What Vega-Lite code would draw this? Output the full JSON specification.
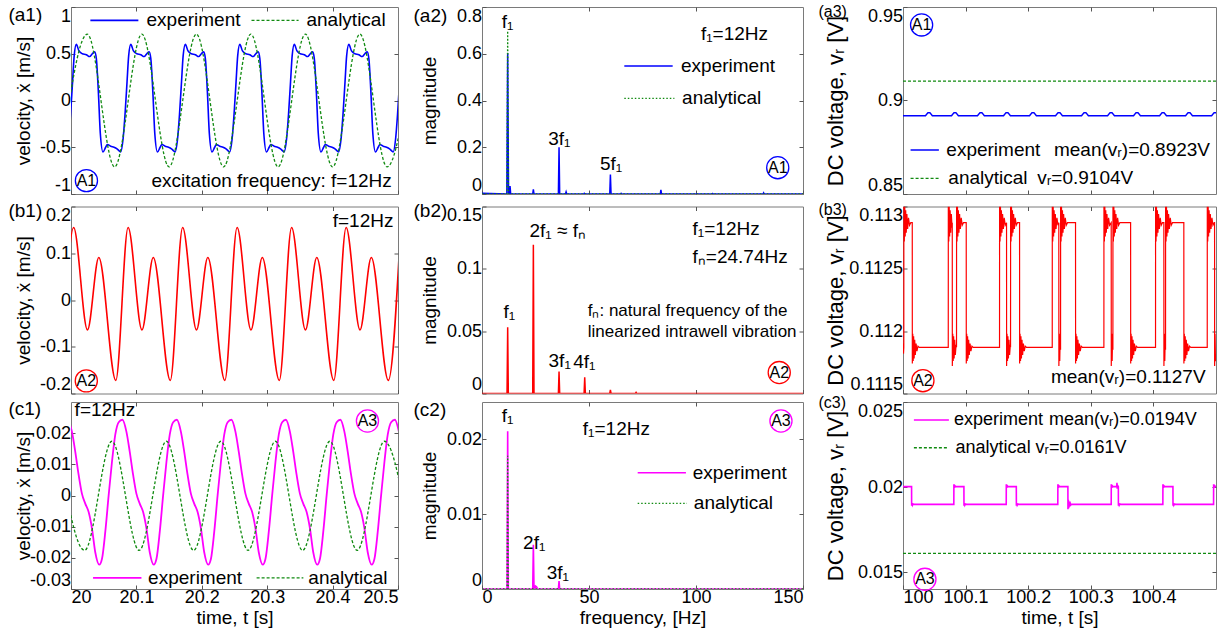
{
"$schema": "https://vega.github.io/schema/vega-lite/v6.json",
"padding": {"left": 7, "top": 3, "right": 0, "bottom": 0},
"config": {
  "font": "Liberation Sans",
  "view": {"stroke": "#7a7a7a", "strokeWidth": 1},
  "axis": {"domain": false, "grid": false, "tickSize": -4, "tickColor": "#555555", "tickWidth": 1, "labelFontSize": 18, "labelColor": "#000000", "labelPadding": 4.5, "labelFlush": true, "titleFontSize": 19, "titleFontWeight": "normal", "titleColor": "#000000"},
  "text": {"fontSize": 19, "color": "#000000"}
},
"datasets": {
"a1e": [{"x":19.9962,"y":-0.42},{"x":19.9993,"y":-0.15},{"x":20.0024,"y":0.2},{"x":20.0049,"y":0.48},
{"x":20.0081,"y":0.6},{"x":20.0122,"y":0.53},{"x":20.0173,"y":0.5},{"x":20.0234,"y":0.49},{"x":20.0285,"y":0.47},{"x":20.0326,"y":0.5},{"x":20.0362,"y":0.52},{"x":20.0387,"y":0.45},{"x":20.0418,"y":0.1},{"x":20.0448,"y":-0.35},{"x":20.0489,"y":-0.55},{"x":20.053,"y":-0.5},{"x":20.0556,"y":-0.47},{"x":20.0607,"y":-0.49},{"x":20.0658,"y":-0.5},{"x":20.0709,"y":-0.52},{"x":20.076,"y":-0.55},{"x":20.0795,"y":-0.42},{"x":20.0826,"y":-0.15},{"x":20.0857,"y":0.2},{"x":20.0882,"y":0.48},
{"x":20.0914,"y":0.6},{"x":20.0955,"y":0.53},{"x":20.1006,"y":0.5},{"x":20.1067,"y":0.49},{"x":20.1118,"y":0.47},{"x":20.1159,"y":0.5},{"x":20.1195,"y":0.52},{"x":20.122,"y":0.45},{"x":20.1251,"y":0.1},{"x":20.1281,"y":-0.35},{"x":20.1322,"y":-0.55},{"x":20.1363,"y":-0.5},{"x":20.1389,"y":-0.47},{"x":20.144,"y":-0.49},{"x":20.1491,"y":-0.5},{"x":20.1542,"y":-0.52},{"x":20.1593,"y":-0.55},{"x":20.1628,"y":-0.42},{"x":20.1659,"y":-0.15},{"x":20.169,"y":0.2},{"x":20.1715,"y":0.48},
{"x":20.1748,"y":0.6},{"x":20.1789,"y":0.53},{"x":20.184,"y":0.5},{"x":20.1901,"y":0.49},{"x":20.1952,"y":0.47},{"x":20.1993,"y":0.5},{"x":20.2029,"y":0.52},{"x":20.2054,"y":0.45},{"x":20.2085,"y":0.1},{"x":20.2115,"y":-0.35},{"x":20.2156,"y":-0.55},{"x":20.2197,"y":-0.5},{"x":20.2223,"y":-0.47},{"x":20.2274,"y":-0.49},{"x":20.2325,"y":-0.5},{"x":20.2376,"y":-0.52},{"x":20.2427,"y":-0.55},{"x":20.2462,"y":-0.42},{"x":20.2493,"y":-0.15},{"x":20.2524,"y":0.2},{"x":20.2549,"y":0.48},
{"x":20.2581,"y":0.6},{"x":20.2622,"y":0.53},{"x":20.2673,"y":0.5},{"x":20.2734,"y":0.49},{"x":20.2785,"y":0.47},{"x":20.2826,"y":0.5},{"x":20.2862,"y":0.52},{"x":20.2887,"y":0.45},{"x":20.2918,"y":0.1},{"x":20.2948,"y":-0.35},{"x":20.2989,"y":-0.55},{"x":20.303,"y":-0.5},{"x":20.3056,"y":-0.47},{"x":20.3107,"y":-0.49},{"x":20.3158,"y":-0.5},{"x":20.3209,"y":-0.52},{"x":20.326,"y":-0.55},{"x":20.3295,"y":-0.42},{"x":20.3326,"y":-0.15},{"x":20.3357,"y":0.2},{"x":20.3382,"y":0.48},
{"x":20.3414,"y":0.6},{"x":20.3455,"y":0.53},{"x":20.3506,"y":0.5},{"x":20.3567,"y":0.49},{"x":20.3618,"y":0.47},{"x":20.3659,"y":0.5},{"x":20.3695,"y":0.52},{"x":20.372,"y":0.45},{"x":20.3751,"y":0.1},{"x":20.3781,"y":-0.35},{"x":20.3822,"y":-0.55},{"x":20.3863,"y":-0.5},{"x":20.3889,"y":-0.47},{"x":20.394,"y":-0.49},{"x":20.3991,"y":-0.5},{"x":20.4042,"y":-0.52},{"x":20.4093,"y":-0.55},{"x":20.4128,"y":-0.42},{"x":20.4159,"y":-0.15},{"x":20.419,"y":0.2},{"x":20.4215,"y":0.48},
{"x":20.4248,"y":0.6},{"x":20.4289,"y":0.53},{"x":20.434,"y":0.5},{"x":20.4401,"y":0.49},{"x":20.4452,"y":0.47},{"x":20.4493,"y":0.5},{"x":20.4529,"y":0.52},{"x":20.4554,"y":0.45},{"x":20.4585,"y":0.1},{"x":20.4615,"y":-0.35},{"x":20.4656,"y":-0.55},{"x":20.4697,"y":-0.5},{"x":20.4723,"y":-0.47},{"x":20.4774,"y":-0.49},{"x":20.4825,"y":-0.5},{"x":20.4876,"y":-0.52},{"x":20.4927,"y":-0.55},{"x":20.4962,"y":-0.42},{"x":20.4993,"y":-0.15},{"x":20.5024,"y":0.2}],
"a1a": [{"x":19.9833,"y":-0.71},{"x":20.025,"y":0.71},{"x":20.0667,"y":-0.71},{"x":20.1083,"y":0.71},{"x":20.15,"y":-0.71},{"x":20.1917,"y":0.71},{"x":20.2333,"y":-0.71},{"x":20.275,"y":0.71},{"x":20.3167,"y":-0.71},{"x":20.3583,"y":0.71},{"x":20.4,"y":-0.71},{"x":20.4417,"y":0.71},{"x":20.4833,"y":-0.71},{"x":20.525,"y":0.71}],
"a2e": [{"x":0,"y":0.003},{"x":11.6,"y":0},{"x":12,"y":0.603},{"x":12.4,"y":0},{"x":12.8,"y":0},{"x":13.1,"y":0.034},{"x":13.4,"y":0},{"x":23.7,"y":0},{"x":24,"y":0.02},{"x":24.3,"y":0},{"x":35.7,"y":0},{"x":36,"y":0.2},{"x":36.3,"y":0},{"x":39,"y":0},{"x":39.3,"y":0.009},{"x":39.6,"y":0},{"x":47.5,"y":0},{"x":47.8,"y":0.003},{"x":48.1,"y":0},{"x":59.7,"y":0},{"x":60,"y":0.083},{"x":60.3,"y":0},{"x":64.7,"y":0},{"x":65,"y":0.003},{"x":65.3,"y":0},{"x":83.3,"y":0},{"x":83.6,"y":0.018},{"x":83.9,"y":0},{"x":107.5,"y":0},{"x":107.8,"y":0.002},{"x":108.1,"y":0},{"x":131.3,"y":0},{"x":131.6,"y":0.005},{"x":131.9,"y":0},{"x":150,"y":0}],
"a2a": [{"x":0,"y":0},{"x":11.6,"y":0},{"x":12,"y":0.697},{"x":12.4,"y":0},{"x":150,"y":0}],
"a3e": [{"x":100,"y":0.8918},
{"x":100.0359,"y":0.8918},{"x":100.0399,"y":0.8935},{"x":100.0429,"y":0.8935},{"x":100.0469,"y":0.8918},
{"x":100.0775,"y":0.8918},{"x":100.0815,"y":0.8935},{"x":100.0845,"y":0.8935},{"x":100.0885,"y":0.8918},
{"x":100.119,"y":0.8918},{"x":100.123,"y":0.8935},{"x":100.126,"y":0.8935},{"x":100.13,"y":0.8918},
{"x":100.1606,"y":0.8918},{"x":100.1646,"y":0.8935},{"x":100.1676,"y":0.8935},{"x":100.1716,"y":0.8918},
{"x":100.2021,"y":0.8918},{"x":100.2061,"y":0.8935},{"x":100.2091,"y":0.8935},{"x":100.2131,"y":0.8918},
{"x":100.2437,"y":0.8918},{"x":100.2477,"y":0.8935},{"x":100.2507,"y":0.8935},{"x":100.2547,"y":0.8918},
{"x":100.2852,"y":0.8918},{"x":100.2892,"y":0.8935},{"x":100.2922,"y":0.8935},{"x":100.2962,"y":0.8918},
{"x":100.3268,"y":0.8918},{"x":100.3308,"y":0.8935},{"x":100.3338,"y":0.8935},{"x":100.3378,"y":0.8918},
{"x":100.3683,"y":0.8918},{"x":100.3723,"y":0.8935},{"x":100.3753,"y":0.8935},{"x":100.3793,"y":0.8918},
{"x":100.4099,"y":0.8918},{"x":100.4139,"y":0.8935},{"x":100.4169,"y":0.8935},{"x":100.4209,"y":0.8918},
{"x":100.4514,"y":0.8918},{"x":100.4554,"y":0.8935},{"x":100.4584,"y":0.8935},{"x":100.4624,"y":0.8918},
{"x":100.493,"y":0.8918},{"x":100.497,"y":0.8935},{"x":100.5,"y":0.8935}],
"a3a": [{"x":100,"y":0.9104},{"x":100.5,"y":0.9104}],
"b1r": [{"x":19.9852,"y":-0.172},{"x":20.004,"y":0.155},{"x":20.0252,"y":-0.064},{"x":20.0425,"y":0.091},{"x":20.0685,"y":-0.172},{"x":20.0873,"y":0.155},{"x":20.1085,"y":-0.064},{"x":20.1258,"y":0.091},{"x":20.1518,"y":-0.172},{"x":20.1707,"y":0.155},{"x":20.1919,"y":-0.064},{"x":20.2092,"y":0.091},{"x":20.2352,"y":-0.172},{"x":20.254,"y":0.155},{"x":20.2752,"y":-0.064},{"x":20.2925,"y":0.091},{"x":20.3185,"y":-0.172},{"x":20.3373,"y":0.155},{"x":20.3585,"y":-0.064},{"x":20.3758,"y":0.091},{"x":20.4018,"y":-0.172},{"x":20.4207,"y":0.155},{"x":20.4419,"y":-0.064},{"x":20.4592,"y":0.091},{"x":20.4852,"y":-0.172},{"x":20.504,"y":0.155}],
"b2r": [{"x":0,"y":0},{"x":11.7,"y":0},{"x":12,"y":0.0532},{"x":12.3,"y":0},{"x":23.7,"y":0},{"x":24,"y":0.1193},{"x":24.3,"y":0},{"x":35.7,"y":0},{"x":36,"y":0.0177},{"x":36.3,"y":0},{"x":47.7,"y":0},{"x":48,"y":0.0131},{"x":48.3,"y":0},{"x":59.7,"y":0},{"x":60,"y":0.003},{"x":60.3,"y":0},{"x":71.7,"y":0},{"x":72,"y":0.0008},{"x":72.3,"y":0},{"x":150,"y":0}],
"b3r": [{"x":100,"y":0.11184},{"x":100.0004,"y":0.1119},{"x":100.0008,"y":0.11182},{"x":100.0013,"y":0.11187},
{"x":100.0014,"y":0.113},{"x":100.0021,"y":0.11272},{"x":100.0028,"y":0.113},{"x":100.0035,"y":0.11276},{"x":100.0043,"y":0.11297},{"x":100.0052,"y":0.11279},{"x":100.0062,"y":0.11294},{"x":100.0074,"y":0.11282},{"x":100.0088,"y":0.11291},{"x":100.0104,"y":0.11285},{"x":100.0124,"y":0.11287},{"x":100.0148,"y":0.11287},
{"x":100.0149,"y":0.11174},{"x":100.0156,"y":0.11198},{"x":100.0163,"y":0.11176},{"x":100.017,"y":0.11196},{"x":100.0178,"y":0.11178},{"x":100.0187,"y":0.11193},{"x":100.0197,"y":0.11181},{"x":100.0209,"y":0.1119},{"x":100.0223,"y":0.11184},{"x":100.0239,"y":0.11188},{"x":100.0259,"y":0.11187},
{"x":100.0723,"y":0.11187},{"x":100.0724,"y":0.113},{"x":100.0731,"y":0.11272},{"x":100.0738,"y":0.113},{"x":100.0745,"y":0.11276},{"x":100.0753,"y":0.11297},{"x":100.0762,"y":0.11279},{"x":100.0772,"y":0.11294},{"x":100.0784,"y":0.11283},{"x":100.0787,"y":0.11287},
{"x":100.0788,"y":0.11172},{"x":100.0795,"y":0.11198},{"x":100.0802,"y":0.11176},{"x":100.0809,"y":0.11196},{"x":100.0817,"y":0.11178},{"x":100.0826,"y":0.11193},{"x":100.0836,"y":0.11181},{"x":100.0848,"y":0.11189},{"x":100.0855,"y":0.11187},
{"x":100.0856,"y":0.113},{"x":100.0863,"y":0.11272},{"x":100.087,"y":0.113},{"x":100.0877,"y":0.11276},{"x":100.0885,"y":0.11297},{"x":100.0894,"y":0.11279},{"x":100.0904,"y":0.11294},{"x":100.0916,"y":0.11282},{"x":100.093,"y":0.11291},{"x":100.0946,"y":0.11285},{"x":100.0966,"y":0.11287},{"x":100.101,"y":0.11287},
{"x":100.1011,"y":0.11174},{"x":100.1018,"y":0.11198},{"x":100.1025,"y":0.11176},{"x":100.1032,"y":0.11196},{"x":100.104,"y":0.11178},{"x":100.1049,"y":0.11193},{"x":100.1059,"y":0.11181},{"x":100.1071,"y":0.1119},{"x":100.1085,"y":0.11184},{"x":100.1101,"y":0.11188},{"x":100.1121,"y":0.11187},
{"x":100.1542,"y":0.11187},{"x":100.1543,"y":0.113},{"x":100.155,"y":0.11272},{"x":100.1557,"y":0.113},{"x":100.1564,"y":0.11276},{"x":100.1572,"y":0.11297},{"x":100.1581,"y":0.11279},{"x":100.1591,"y":0.11294},{"x":100.1603,"y":0.11282},{"x":100.1617,"y":0.11291},{"x":100.1633,"y":0.11285},{"x":100.1654,"y":0.11287},
{"x":100.1655,"y":0.11172},{"x":100.1662,"y":0.11198},{"x":100.1669,"y":0.11176},{"x":100.1676,"y":0.11196},{"x":100.1684,"y":0.11178},{"x":100.1693,"y":0.11193},{"x":100.1703,"y":0.11181},{"x":100.1715,"y":0.11189},{"x":100.1718,"y":0.11187},
{"x":100.1719,"y":0.113},{"x":100.1726,"y":0.11272},{"x":100.1733,"y":0.113},{"x":100.174,"y":0.11276},{"x":100.1748,"y":0.11297},{"x":100.1757,"y":0.11279},{"x":100.1767,"y":0.11294},{"x":100.1779,"y":0.11282},{"x":100.1793,"y":0.11291},{"x":100.1809,"y":0.11285},{"x":100.1829,"y":0.11287},{"x":100.1862,"y":0.11287},
{"x":100.1863,"y":0.11174},{"x":100.187,"y":0.11198},{"x":100.1877,"y":0.11176},{"x":100.1884,"y":0.11196},{"x":100.1892,"y":0.11178},{"x":100.1901,"y":0.11193},{"x":100.1911,"y":0.11181},{"x":100.1923,"y":0.1119},{"x":100.1937,"y":0.11184},{"x":100.1953,"y":0.11188},{"x":100.1973,"y":0.11187},
{"x":100.2384,"y":0.11187},{"x":100.2385,"y":0.113},{"x":100.2392,"y":0.11272},{"x":100.2399,"y":0.113},{"x":100.2406,"y":0.11276},{"x":100.2414,"y":0.11297},{"x":100.2423,"y":0.11279},{"x":100.2433,"y":0.11294},{"x":100.2445,"y":0.11282},{"x":100.2459,"y":0.11291},{"x":100.2475,"y":0.11285},{"x":100.2489,"y":0.11287},
{"x":100.249,"y":0.11172},{"x":100.2497,"y":0.11198},{"x":100.2504,"y":0.11176},{"x":100.2511,"y":0.11195},{"x":100.2517,"y":0.11185},
{"x":100.2518,"y":0.113},{"x":100.2525,"y":0.11272},{"x":100.2532,"y":0.113},{"x":100.2539,"y":0.11276},{"x":100.2547,"y":0.11297},{"x":100.2556,"y":0.11279},{"x":100.2566,"y":0.11294},{"x":100.2578,"y":0.11282},{"x":100.2592,"y":0.11291},{"x":100.2608,"y":0.11285},{"x":100.2628,"y":0.11287},{"x":100.2756,"y":0.11287},
{"x":100.2757,"y":0.11174},{"x":100.2764,"y":0.11198},{"x":100.2771,"y":0.11176},{"x":100.2778,"y":0.11196},{"x":100.2786,"y":0.11178},{"x":100.2795,"y":0.11193},{"x":100.2805,"y":0.11181},{"x":100.2817,"y":0.1119},{"x":100.2831,"y":0.11184},{"x":100.2847,"y":0.11188},{"x":100.2867,"y":0.11187},
{"x":100.3209,"y":0.11187},{"x":100.321,"y":0.113},{"x":100.3217,"y":0.11272},{"x":100.3224,"y":0.113},{"x":100.3231,"y":0.11276},{"x":100.3239,"y":0.11297},{"x":100.3248,"y":0.11279},{"x":100.3258,"y":0.11294},{"x":100.327,"y":0.11282},{"x":100.3284,"y":0.11291},{"x":100.33,"y":0.11285},{"x":100.3326,"y":0.11287},
{"x":100.3327,"y":0.11172},{"x":100.3334,"y":0.11198},{"x":100.3341,"y":0.11176},{"x":100.3348,"y":0.11195},{"x":100.3353,"y":0.11185},
{"x":100.3354,"y":0.113},{"x":100.3361,"y":0.11272},{"x":100.3368,"y":0.113},{"x":100.3375,"y":0.11276},{"x":100.3383,"y":0.11297},{"x":100.3392,"y":0.11279},{"x":100.3402,"y":0.11294},{"x":100.3414,"y":0.11282},{"x":100.3428,"y":0.11291},{"x":100.3444,"y":0.11285},{"x":100.3464,"y":0.11287},{"x":100.3636,"y":0.11287},
{"x":100.3637,"y":0.11174},{"x":100.3644,"y":0.11198},{"x":100.3651,"y":0.11176},{"x":100.3658,"y":0.11196},{"x":100.3666,"y":0.11178},{"x":100.3675,"y":0.11193},{"x":100.3685,"y":0.11181},{"x":100.3697,"y":0.1119},{"x":100.3711,"y":0.11184},{"x":100.3727,"y":0.11188},{"x":100.3747,"y":0.11187},
{"x":100.4034,"y":0.11187},{"x":100.4035,"y":0.113},{"x":100.4042,"y":0.11272},{"x":100.4049,"y":0.113},{"x":100.4056,"y":0.11276},{"x":100.4064,"y":0.11297},{"x":100.4073,"y":0.11279},{"x":100.4083,"y":0.11294},{"x":100.4095,"y":0.11282},{"x":100.4109,"y":0.11291},{"x":100.4125,"y":0.11285},{"x":100.4145,"y":0.11287},{"x":100.4167,"y":0.11287},
{"x":100.4168,"y":0.11172},{"x":100.4175,"y":0.11198},{"x":100.4182,"y":0.11176},{"x":100.4189,"y":0.11195},{"x":100.4194,"y":0.11185},
{"x":100.4195,"y":0.113},{"x":100.4202,"y":0.11272},{"x":100.4209,"y":0.113},{"x":100.4216,"y":0.11276},{"x":100.4224,"y":0.11297},{"x":100.4233,"y":0.11279},{"x":100.4243,"y":0.11294},{"x":100.4255,"y":0.11282},{"x":100.4269,"y":0.11291},{"x":100.4285,"y":0.11285},{"x":100.4305,"y":0.11287},{"x":100.4486,"y":0.11287},
{"x":100.4487,"y":0.11174},{"x":100.4494,"y":0.11198},{"x":100.4501,"y":0.11176},{"x":100.4508,"y":0.11196},{"x":100.4516,"y":0.11178},{"x":100.4525,"y":0.11193},{"x":100.4535,"y":0.11181},{"x":100.4547,"y":0.1119},{"x":100.4561,"y":0.11184},{"x":100.4577,"y":0.11188},{"x":100.4597,"y":0.11187},
{"x":100.486,"y":0.11187},{"x":100.4861,"y":0.113},{"x":100.4868,"y":0.11272},{"x":100.4875,"y":0.113},{"x":100.4882,"y":0.11276},{"x":100.489,"y":0.11297},{"x":100.4899,"y":0.11279},{"x":100.4909,"y":0.11294},{"x":100.4921,"y":0.11282},{"x":100.4935,"y":0.11291},{"x":100.4951,"y":0.11285},{"x":100.4971,"y":0.11287},{"x":100.4977,"y":0.11287},
{"x":100.4978,"y":0.11172},{"x":100.4985,"y":0.11198},{"x":100.4992,"y":0.11176},{"x":100.5,"y":0.1118}],
"c1e": [{"x":19.9953,"y":0.0243},{"x":20.0014,"y":0.0205},{"x":20.0065,"y":0.0141},{"x":20.0117,"y":0.0066},{"x":20.0167,"y":0.0006},{"x":20.0218,"y":-0.0026},{"x":20.027,"y":-0.0053},{"x":20.0321,"y":-0.0106},{"x":20.0371,"y":-0.0182},{"x":20.0432,"y":-0.0222},{"x":20.0474,"y":-0.0203},{"x":20.0524,"y":-0.0117},{"x":20.0576,"y":0.0001},{"x":20.0627,"y":0.0109},{"x":20.0677,"y":0.0195},{"x":20.0729,"y":0.0235},
{"x":20.0786,"y":0.0243},{"x":20.0847,"y":0.0205},{"x":20.0898,"y":0.0141},{"x":20.095,"y":0.0066},{"x":20.1,"y":0.0006},{"x":20.1051,"y":-0.0026},{"x":20.1103,"y":-0.0053},{"x":20.1154,"y":-0.0106},{"x":20.1204,"y":-0.0182},{"x":20.1265,"y":-0.0222},{"x":20.1307,"y":-0.0203},{"x":20.1357,"y":-0.0117},{"x":20.1409,"y":0.0001},{"x":20.146,"y":0.0109},{"x":20.151,"y":0.0195},{"x":20.1562,"y":0.0235},
{"x":20.1619,"y":0.0243},{"x":20.168,"y":0.0205},{"x":20.1731,"y":0.0141},{"x":20.1783,"y":0.0066},{"x":20.1833,"y":0.0006},{"x":20.1884,"y":-0.0026},{"x":20.1936,"y":-0.0053},{"x":20.1987,"y":-0.0106},{"x":20.2037,"y":-0.0182},{"x":20.2098,"y":-0.0222},{"x":20.214,"y":-0.0203},{"x":20.219,"y":-0.0117},{"x":20.2242,"y":0.0001},{"x":20.2293,"y":0.0109},{"x":20.2343,"y":0.0195},{"x":20.2395,"y":0.0235},
{"x":20.2453,"y":0.0243},{"x":20.2514,"y":0.0205},{"x":20.2565,"y":0.0141},{"x":20.2617,"y":0.0066},{"x":20.2667,"y":0.0006},{"x":20.2718,"y":-0.0026},{"x":20.277,"y":-0.0053},{"x":20.2821,"y":-0.0106},{"x":20.2871,"y":-0.0182},{"x":20.2932,"y":-0.0222},{"x":20.2974,"y":-0.0203},{"x":20.3024,"y":-0.0117},{"x":20.3076,"y":0.0001},{"x":20.3127,"y":0.0109},{"x":20.3177,"y":0.0195},{"x":20.3229,"y":0.0235},
{"x":20.3286,"y":0.0243},{"x":20.3347,"y":0.0205},{"x":20.3398,"y":0.0141},{"x":20.345,"y":0.0066},{"x":20.35,"y":0.0006},{"x":20.3551,"y":-0.0026},{"x":20.3603,"y":-0.0053},{"x":20.3654,"y":-0.0106},{"x":20.3704,"y":-0.0182},{"x":20.3765,"y":-0.0222},{"x":20.3807,"y":-0.0203},{"x":20.3857,"y":-0.0117},{"x":20.3909,"y":0.0001},{"x":20.396,"y":0.0109},{"x":20.401,"y":0.0195},{"x":20.4062,"y":0.0235},
{"x":20.4119,"y":0.0243},{"x":20.418,"y":0.0205},{"x":20.4231,"y":0.0141},{"x":20.4283,"y":0.0066},{"x":20.4333,"y":0.0006},{"x":20.4384,"y":-0.0026},{"x":20.4436,"y":-0.0053},{"x":20.4487,"y":-0.0106},{"x":20.4537,"y":-0.0182},{"x":20.4598,"y":-0.0222},{"x":20.464,"y":-0.0203},{"x":20.469,"y":-0.0117},{"x":20.4742,"y":0.0001},{"x":20.4793,"y":0.0109},{"x":20.4843,"y":0.0195},{"x":20.4895,"y":0.0235},
{"x":20.4953,"y":0.0243},{"x":20.5014,"y":0.0205}],
"c1a": [{"x":19.9792,"y":0.0174},{"x":20.0208,"y":-0.0176},{"x":20.0625,"y":0.0174},{"x":20.1042,"y":-0.0176},{"x":20.1458,"y":0.0174},{"x":20.1875,"y":-0.0176},{"x":20.2292,"y":0.0174},{"x":20.2708,"y":-0.0176},{"x":20.3125,"y":0.0174},{"x":20.3542,"y":-0.0176},{"x":20.3958,"y":0.0174},{"x":20.4375,"y":-0.0176},{"x":20.4792,"y":0.0174},{"x":20.5208,"y":-0.0176}],
"c2e": [{"x":0,"y":0},{"x":11.7,"y":0},{"x":12,"y":0.0211},{"x":12.3,"y":0},{"x":23.7,"y":0},{"x":24,"y":0.0059},{"x":24.3,"y":0},{"x":24.7,"y":0},{"x":25,"y":0.0004},{"x":25.5,"y":0.0003},{"x":26,"y":0},{"x":35.7,"y":0},{"x":36,"y":0.00107},{"x":36.3,"y":0},{"x":150,"y":0}],
"c2a": [{"x":0,"y":0},{"x":11.7,"y":0},{"x":12,"y":0.0178},{"x":12.3,"y":0},{"x":150,"y":0}],
"c3e": [{"x":100,"y":0.02002},{"x":100.0137,"y":0.02002},{"x":100.0138,"y":0.0189},{"x":100.0145,"y":0.01905},{"x":100.0152,"y":0.01893},{"x":100.0162,"y":0.019},{"x":100.0177,"y":0.01898},
{"x":100.0812,"y":0.01898},{"x":100.0813,"y":0.02016},{"x":100.0821,"y":0.01995},{"x":100.0829,"y":0.02008},{"x":100.0843,"y":0.02002},{"x":100.0973,"y":0.02002},{"x":100.0974,"y":0.0189},{"x":100.0981,"y":0.01905},{"x":100.0988,"y":0.01893},{"x":100.0998,"y":0.019},{"x":100.1013,"y":0.01898},
{"x":100.1649,"y":0.01898},{"x":100.165,"y":0.02016},{"x":100.1658,"y":0.01995},{"x":100.1666,"y":0.02008},{"x":100.168,"y":0.02002},{"x":100.181,"y":0.02002},{"x":100.1811,"y":0.0189},{"x":100.1818,"y":0.01905},{"x":100.1825,"y":0.01893},{"x":100.1835,"y":0.019},{"x":100.185,"y":0.01898},
{"x":100.2473,"y":0.01898},{"x":100.2474,"y":0.02016},{"x":100.2482,"y":0.01995},{"x":100.249,"y":0.02008},{"x":100.2504,"y":0.02002},{"x":100.2634,"y":0.02002},{"x":100.2635,"y":0.01869},{"x":100.2641,"y":0.01925},{"x":100.2647,"y":0.01875},{"x":100.2654,"y":0.01915},{"x":100.2662,"y":0.01885},{"x":100.2672,"y":0.01905},{"x":100.2684,"y":0.01895},{"x":100.2699,"y":0.01898},
{"x":100.3326,"y":0.01898},{"x":100.3327,"y":0.02016},{"x":100.3335,"y":0.01995},{"x":100.3343,"y":0.02008},{"x":100.3357,"y":0.02002},{"x":100.3414,"y":0.02002},{"x":100.3418,"y":0.02025},{"x":100.3422,"y":0.0199},{"x":100.3427,"y":0.0201},{"x":100.344,"y":0.02002},{"x":100.3441,"y":0.0189},{"x":100.3448,"y":0.01905},{"x":100.3455,"y":0.01893},{"x":100.3465,"y":0.019},{"x":100.348,"y":0.01898},
{"x":100.4151,"y":0.01898},{"x":100.4152,"y":0.02016},{"x":100.416,"y":0.01995},{"x":100.4168,"y":0.02008},{"x":100.4182,"y":0.02002},{"x":100.4312,"y":0.02002},{"x":100.4313,"y":0.0189},{"x":100.432,"y":0.01905},{"x":100.4327,"y":0.01893},{"x":100.4337,"y":0.019},{"x":100.4352,"y":0.01898},
{"x":100.4961,"y":0.01898},{"x":100.4962,"y":0.02016},{"x":100.497,"y":0.01995},{"x":100.4978,"y":0.02008},{"x":100.4992,"y":0.02002},{"x":100.5,"y":0.02002}],
"c3a": [{"x":100,"y":0.0161},{"x":100.5,"y":0.0161}]
},
"spacing": 6.5,
"resolve": {"scale": {"x": "independent", "y": "independent"}},
"vconcat": [
{"hconcat": [
 {"width": 327, "height": 187, "resolve": {"axis": {"x": "independent", "y": "independent"}},
  "layer": [
  {"encoding": {
   "x": {"field": "x", "type": "quantitative", "scale": {"domain": [20, 20.5], "nice": false, "zero": false}, "axis": {"values": [20, 20.1, 20.2, 20.3, 20.4, 20.5], "labels": false, "title": null}},
   "y": {"field": "y", "type": "quantitative", "scale": {"domain": [-1, 1], "nice": false, "zero": false}, "axis": {"values": [-1, -0.5, 0, 0.5, 1], "labelExpr": "'' + datum.value", "title": "velocity, ẋ [m/s]", "titleX": -38}}
  },
  "layer": [
   {"data": {"name": "a1e"}, "mark": {"type": "line", "color": "#0000ff", "strokeWidth": 1.6, "interpolate": "monotone", "clip": true}},
   {"data": {"name": "a1a"}, "mark": {"type": "line", "color": "#108a10", "strokeWidth": 1.3, "strokeDash": [3, 2], "interpolate": "monotone", "clip": true}},
   {"data": {"values": [{"x": 20.0296, "x2": 20.103, "y": 0.857}]}, "mark": {"type": "rule", "color": "#0000ff", "strokeWidth": 1.6}, "encoding": {"x2": {"field": "x2"}}},
   {"data": {"values": [{"x": 20.276, "x2": 20.348, "y": 0.857}]}, "mark": {"type": "rule", "color": "#108a10", "strokeWidth": 1.3, "strokeDash": [3, 2]}, "encoding": {"x2": {"field": "x2"}}},
   {"data": {"values": [{"x": 20.1155, "y": 0.857, "l": "experiment"}, {"x": 20.36, "y": 0.857, "l": "analytical"}, {"x": 19.9044, "y": 0.91, "l": "(a1)"}]}, "mark": {"type": "text", "align": "left", "baseline": "middle", "fontSize": 19}, "encoding": {"text": {"field": "l", "type": "nominal"}}},
   {"data": {"values": [{"x": 20.4905, "y": -0.857, "l": "excitation frequency: f=12Hz"}]}, "mark": {"type": "text", "align": "right", "baseline": "middle", "fontSize": 19}, "encoding": {"text": {"field": "l", "type": "nominal"}}},
   {"data": {"values": [{"x": 20.0236, "y": -0.857}]}, "mark": {"type": "point", "shape": "circle", "size": 490, "filled": false, "color": "#0000ff", "strokeWidth": 1.3, "opacity": 1}},
   {"data": {"values": [{"x": 20.0236, "y": -0.857, "l": "A1"}]}, "mark": {"type": "text", "align": "center", "baseline": "middle", "fontSize": 16}, "encoding": {"text": {"field": "l", "type": "nominal"}}}
  ]},
  {"data": {"values": [{"x": 20.2, "y": 0}]}, "mark": {"type": "point", "opacity": 0},
   "encoding": {
    "x": {"field": "x", "type": "quantitative", "scale": {"domain": [20, 20.5], "nice": false, "zero": false}, "axis": {"orient": "top", "values": [20.1, 20.2, 20.3, 20.4], "labels": false, "title": null, "minExtent": 0}},
    "y": {"field": "y", "type": "quantitative", "scale": {"domain": [-1, 1], "nice": false, "zero": false}, "axis": {"orient": "right", "values": [-0.5, 0, 0.5], "labels": false, "title": null, "minExtent": 0}}
   }}
  ]},
 {"hconcat": [
 {"width": 321, "height": 187, "resolve": {"axis": {"x": "independent", "y": "independent"}},
  "layer": [
  {"encoding": {
   "x": {"field": "x", "type": "quantitative", "scale": {"domain": [0, 150], "nice": false, "zero": false}, "axis": {"values": [0, 50, 100, 150], "labels": false, "title": null}},
   "y": {"field": "y", "type": "quantitative", "scale": {"domain": [0, 0.8], "nice": false}, "axis": {"values": [0, 0.2, 0.4, 0.6, 0.8], "labelExpr": "'' + datum.value", "title": "magnitude", "titleX": -43}}
  },
  "layer": [
   {"data": {"name": "a2e"}, "mark": {"type": "line", "color": "#0000ff", "strokeWidth": 1.5, "clip": true}},
   {"data": {"name": "a2a"}, "mark": {"type": "line", "color": "#108a10", "strokeWidth": 1.3, "strokeDash": [1.5, 2], "clip": true}},
   {"data": {"values": [{"x": 66.5, "x2": 89.1, "y": 0.5476}]}, "mark": {"type": "rule", "color": "#0000ff", "strokeWidth": 1.5}, "encoding": {"x2": {"field": "x2"}}},
   {"data": {"values": [{"x": 66.5, "x2": 89.9, "y": 0.4094}]}, "mark": {"type": "rule", "color": "#108a10", "strokeWidth": 1.3, "strokeDash": [1.5, 2]}, "encoding": {"x2": {"field": "x2"}}},
   {"data": {"values": [{"x": 93.0, "y": 0.5476, "l": "experiment"}, {"x": 93.5, "y": 0.4094, "l": "analytical"}, {"x": 102.3, "y": 0.683, "l": "f₁=12Hz"}, {"x": -32.0, "y": 0.7615, "l": "(a2)"}]}, "mark": {"type": "text", "align": "left", "baseline": "middle", "fontSize": 19}, "encoding": {"text": {"field": "l", "type": "nominal"}}},
   {"data": {"values": [{"x": 12, "y": 0.737, "l": "f₁"}, {"x": 36.1, "y": 0.234, "l": "3f₁"}, {"x": 60.3, "y": 0.127, "l": "5f₁"}]}, "mark": {"type": "text", "align": "center", "baseline": "middle", "fontSize": 19}, "encoding": {"text": {"field": "l", "type": "nominal"}}},
   {"data": {"values": [{"x": 138.2, "y": 0.1125}]}, "mark": {"type": "point", "shape": "circle", "size": 490, "filled": false, "color": "#0000ff", "strokeWidth": 1.3, "opacity": 1}},
   {"data": {"values": [{"x": 138.2, "y": 0.1125, "l": "A1"}]}, "mark": {"type": "text", "align": "center", "baseline": "middle", "fontSize": 16}, "encoding": {"text": {"field": "l", "type": "nominal"}}}
  ]},
  {"data": {"values": [{"x": 50, "y": 0.4}]}, "mark": {"type": "point", "opacity": 0},
   "encoding": {
    "x": {"field": "x", "type": "quantitative", "scale": {"domain": [0, 150], "nice": false, "zero": false}, "axis": {"orient": "top", "values": [50, 100], "labels": false, "title": null, "minExtent": 0}},
    "y": {"field": "y", "type": "quantitative", "scale": {"domain": [0, 0.8], "nice": false}, "axis": {"orient": "right", "values": [0.2, 0.4, 0.6], "labels": false, "title": null, "minExtent": 0}}
   }}
  ]},
 {"width": 313, "height": 187, "resolve": {"axis": {"x": "independent", "y": "independent"}},
  "layer": [
  {"encoding": {
   "x": {"field": "x", "type": "quantitative", "scale": {"domain": [100, 100.5], "nice": false, "zero": false}, "axis": {"values": [100, 100.1, 100.2, 100.3, 100.4], "labels": false, "title": null}},
   "y": {"field": "y", "type": "quantitative", "scale": {"domain": [0.85, 0.95], "nice": false, "zero": false}, "axis": {"values": [0.85, 0.9, 0.95], "labelExpr": "'' + datum.value", "title": "DC voltage, vᵣ  [V]", "titleFontSize": 22, "titleX": -56}}
  },
  "layer": [
   {"data": {"name": "a3e"}, "mark": {"type": "line", "color": "#0000ff", "strokeWidth": 1.5, "clip": true}},
   {"data": {"name": "a3a"}, "mark": {"type": "line", "color": "#108a10", "strokeWidth": 1.3, "strokeDash": [3, 2], "clip": true}},
   {"data": {"values": [{"x": 100.0121, "x2": 100.0573, "y": 0.87353}]}, "mark": {"type": "rule", "color": "#0000ff", "strokeWidth": 1.5}, "encoding": {"x2": {"field": "x2"}}},
   {"data": {"values": [{"x": 100.0121, "x2": 100.0573, "y": 0.8584}]}, "mark": {"type": "rule", "color": "#108a10", "strokeWidth": 1.3, "strokeDash": [3, 2]}, "encoding": {"x2": {"field": "x2"}}},
   {"data": {"values": [{"x": 100.0692, "y": 0.87353, "l": "experiment"}, {"x": 100.2411, "y": 0.87353, "l": "mean(vᵣ)=0.8923V"}, {"x": 100.0724, "y": 0.8584, "l": "analytical"}, {"x": 100.2145, "y": 0.8584, "l": "vᵣ=0.9104V"}]}, "mark": {"type": "text", "align": "left", "baseline": "middle", "fontSize": 19}, "encoding": {"text": {"field": "l", "type": "nominal"}}},
   {"data": {"values": [{"x": 99.865, "y": 0.9473, "l": "(a3)"}]}, "mark": {"type": "text", "align": "left", "baseline": "middle", "fontSize": 16}, "encoding": {"text": {"field": "l", "type": "nominal"}}},
   {"data": {"values": [{"x": 100.0297, "y": 0.9404}]}, "mark": {"type": "point", "shape": "circle", "size": 490, "filled": false, "color": "#0000ff", "strokeWidth": 1.3, "opacity": 1}},
   {"data": {"values": [{"x": 100.0297, "y": 0.9404, "l": "A1"}]}, "mark": {"type": "text", "align": "center", "baseline": "middle", "fontSize": 16}, "encoding": {"text": {"field": "l", "type": "nominal"}}}
  ]},
  {"data": {"values": [{"x": 100.2, "y": 0.9}]}, "mark": {"type": "point", "opacity": 0},
   "encoding": {
    "x": {"field": "x", "type": "quantitative", "scale": {"domain": [100, 100.5], "nice": false, "zero": false}, "axis": {"orient": "top", "values": [100.1, 100.2, 100.3, 100.4], "labels": false, "title": null, "minExtent": 0}},
    "y": {"field": "y", "type": "quantitative", "scale": {"domain": [0.85, 0.95], "nice": false, "zero": false}, "axis": {"orient": "right", "values": [0.9], "labels": false, "title": null, "minExtent": 0}}
   }}
  ]}
 ], "spacing": 100, "bounds": "flush", "resolve": {"scale": {"x": "independent", "y": "independent"}}}
], "spacing": 84, "bounds": "flush", "resolve": {"scale": {"x": "independent", "y": "independent"}}},
{"vconcat": [
{"hconcat": [
 {"width": 327, "height": 187, "resolve": {"axis": {"x": "independent", "y": "independent"}},
  "layer": [
  {"encoding": {
   "x": {"field": "x", "type": "quantitative", "scale": {"domain": [20, 20.5], "nice": false, "zero": false}, "axis": {"values": [20, 20.1, 20.2, 20.3, 20.4, 20.5], "labels": false, "title": null}},
   "y": {"field": "y", "type": "quantitative", "scale": {"domain": [-0.2, 0.2], "nice": false, "zero": false}, "axis": {"values": [-0.2, -0.1, 0, 0.1, 0.2], "labelExpr": "'' + datum.value", "title": "velocity, ẋ [m/s]", "titleX": -38}}
  },
  "layer": [
   {"data": {"name": "b1r"}, "mark": {"type": "line", "color": "#ff0000", "strokeWidth": 1.6, "interpolate": "monotone", "clip": true}},
   {"data": {"values": [{"x": 20.493, "y": 0.1696, "l": "f=12Hz"}]}, "mark": {"type": "text", "align": "right", "baseline": "middle", "fontSize": 19}, "encoding": {"text": {"field": "l", "type": "nominal"}}},
   {"data": {"values": [{"x": 19.9044, "y": 0.1895, "l": "(b1)"}]}, "mark": {"type": "text", "align": "left", "baseline": "middle", "fontSize": 19}, "encoding": {"text": {"field": "l", "type": "nominal"}}},
   {"data": {"values": [{"x": 20.0234, "y": -0.173}]}, "mark": {"type": "point", "shape": "circle", "size": 490, "filled": false, "color": "#ff0000", "strokeWidth": 1.3, "opacity": 1}},
   {"data": {"values": [{"x": 20.0234, "y": -0.173, "l": "A2"}]}, "mark": {"type": "text", "align": "center", "baseline": "middle", "fontSize": 16}, "encoding": {"text": {"field": "l", "type": "nominal"}}}
  ]},
  {"data": {"values": [{"x": 20.2, "y": 0}]}, "mark": {"type": "point", "opacity": 0},
   "encoding": {
    "x": {"field": "x", "type": "quantitative", "scale": {"domain": [20, 20.5], "nice": false, "zero": false}, "axis": {"orient": "top", "values": [20.1, 20.2, 20.3, 20.4], "labels": false, "title": null, "minExtent": 0}},
    "y": {"field": "y", "type": "quantitative", "scale": {"domain": [-0.2, 0.2], "nice": false, "zero": false}, "axis": {"orient": "right", "values": [-0.1, 0, 0.1], "labels": false, "title": null, "minExtent": 0}}
   }}
  ]},
 {"hconcat": [
 {"width": 321, "height": 187, "resolve": {"axis": {"x": "independent", "y": "independent"}},
  "layer": [
  {"encoding": {
   "x": {"field": "x", "type": "quantitative", "scale": {"domain": [0, 150], "nice": false, "zero": false}, "axis": {"values": [0, 50, 100, 150], "labels": false, "title": null}},
   "y": {"field": "y", "type": "quantitative", "scale": {"domain": [0, 0.15], "nice": false}, "axis": {"values": [0, 0.05, 0.1, 0.15], "labelExpr": "'' + datum.value", "title": "magnitude", "titleX": -43}}
  },
  "layer": [
   {"data": {"name": "b2r"}, "mark": {"type": "line", "color": "#ff0000", "strokeWidth": 1.5, "clip": true}},
   {"data": {"values": [{"x": 12.8, "y": 0.065, "l": "f₁"}, {"x": 35.4, "y": 0.1305, "l": "2f₁ ≈ fₙ"}, {"x": 36.3, "y": 0.0262, "l": "3f₁"}, {"x": 47.8, "y": 0.0249, "l": "4f₁"}]}, "mark": {"type": "text", "align": "center", "baseline": "middle", "fontSize": 19}, "encoding": {"text": {"field": "l", "type": "nominal"}}},
   {"data": {"values": [{"x": 98.4, "y": 0.1318, "l": "f₁=12Hz"}, {"x": 98.4, "y": 0.1091, "l": "fₙ=24.74Hz"}, {"x": -32.0, "y": 0.146, "l": "(b2)"}]}, "mark": {"type": "text", "align": "left", "baseline": "middle", "fontSize": 19}, "encoding": {"text": {"field": "l", "type": "nominal"}}},
   {"data": {"values": [{"x": 49.4, "y": 0.0663, "l": "fₙ: natural frequency of the"}, {"x": 49.4, "y": 0.0497, "l": "linearized intrawell vibration"}]}, "mark": {"type": "text", "align": "left", "baseline": "middle", "fontSize": 17}, "encoding": {"text": {"field": "l", "type": "nominal"}}},
   {"data": {"values": [{"x": 138.9, "y": 0.0168}]}, "mark": {"type": "point", "shape": "circle", "size": 490, "filled": false, "color": "#ff0000", "strokeWidth": 1.3, "opacity": 1}},
   {"data": {"values": [{"x": 138.9, "y": 0.0168, "l": "A2"}]}, "mark": {"type": "text", "align": "center", "baseline": "middle", "fontSize": 16}, "encoding": {"text": {"field": "l", "type": "nominal"}}}
  ]},
  {"data": {"values": [{"x": 50, "y": 0.05}]}, "mark": {"type": "point", "opacity": 0},
   "encoding": {
    "x": {"field": "x", "type": "quantitative", "scale": {"domain": [0, 150], "nice": false, "zero": false}, "axis": {"orient": "top", "values": [50, 100], "labels": false, "title": null, "minExtent": 0}},
    "y": {"field": "y", "type": "quantitative", "scale": {"domain": [0, 0.15], "nice": false}, "axis": {"orient": "right", "values": [0.05, 0.1], "labels": false, "title": null, "minExtent": 0}}
   }}
  ]},
 {"width": 313, "height": 187, "resolve": {"axis": {"x": "independent", "y": "independent"}},
  "layer": [
  {"encoding": {
   "x": {"field": "x", "type": "quantitative", "scale": {"domain": [100, 100.5], "nice": false, "zero": false}, "axis": {"values": [100, 100.1, 100.2, 100.3, 100.4], "labels": false, "title": null}},
   "y": {"field": "y", "type": "quantitative", "scale": {"domain": [0.1115, 0.113], "nice": false, "zero": false}, "axis": {"values": [0.1115, 0.112, 0.1125, 0.113], "labelExpr": "'' + datum.value", "title": "DC voltage, vᵣ  [V]", "titleFontSize": 22, "titleX": -56}}
  },
  "layer": [
   {"data": {"name": "b3r"}, "mark": {"type": "line", "color": "#ff0000", "strokeWidth": 1.2, "clip": true}},
   {"data": {"values": [{"x": 100.4834, "y": 0.111629, "l": "mean(vᵣ)=0.1127V"}]}, "mark": {"type": "text", "align": "right", "baseline": "middle", "fontSize": 19}, "encoding": {"text": {"field": "l", "type": "nominal"}}},
   {"data": {"values": [{"x": 99.865, "y": 0.112968, "l": "(b3)"}]}, "mark": {"type": "text", "align": "left", "baseline": "middle", "fontSize": 16}, "encoding": {"text": {"field": "l", "type": "nominal"}}},
   {"data": {"values": [{"x": 100.0318, "y": 0.111603}]}, "mark": {"type": "point", "shape": "circle", "size": 490, "filled": false, "color": "#ff0000", "strokeWidth": 1.3, "opacity": 1}},
   {"data": {"values": [{"x": 100.0318, "y": 0.111603, "l": "A2"}]}, "mark": {"type": "text", "align": "center", "baseline": "middle", "fontSize": 16}, "encoding": {"text": {"field": "l", "type": "nominal"}}}
  ]},
  {"data": {"values": [{"x": 100.2, "y": 0.112}]}, "mark": {"type": "point", "opacity": 0},
   "encoding": {
    "x": {"field": "x", "type": "quantitative", "scale": {"domain": [100, 100.5], "nice": false, "zero": false}, "axis": {"orient": "top", "values": [100.1, 100.2, 100.3, 100.4], "labels": false, "title": null, "minExtent": 0}},
    "y": {"field": "y", "type": "quantitative", "scale": {"domain": [0.1115, 0.113], "nice": false, "zero": false}, "axis": {"orient": "right", "values": [0.112, 0.1125], "labels": false, "title": null, "minExtent": 0}}
   }}
  ]}
 ], "spacing": 100, "bounds": "flush", "resolve": {"scale": {"x": "independent", "y": "independent"}}}
], "spacing": 84, "bounds": "flush", "resolve": {"scale": {"x": "independent", "y": "independent"}}},
{"hconcat": [
 {"width": 327, "height": 187, "resolve": {"axis": {"x": "independent", "y": "independent"}},
  "layer": [
  {"encoding": {
   "x": {"field": "x", "type": "quantitative", "scale": {"domain": [20, 20.5], "nice": false, "zero": false}, "axis": {"values": [20, 20.1, 20.2, 20.3, 20.4, 20.5], "labelExpr": "'' + datum.value", "labelPadding": 3, "title": "time, t [s]", "titleY": 19}},
   "y": {"field": "y", "type": "quantitative", "scale": {"domain": [-0.03, 0.03], "nice": false, "zero": false}, "axis": {"values": [-0.03, -0.02, -0.01, 0, 0.01, 0.02], "labelExpr": "'' + datum.value", "title": "velocity, ẋ [m/s]", "titleX": -38}}
  },
  "layer": [
   {"data": {"name": "c1e"}, "mark": {"type": "line", "color": "#ff00ff", "strokeWidth": 1.8, "interpolate": "monotone", "clip": true}},
   {"data": {"name": "c1a"}, "mark": {"type": "line", "color": "#108a10", "strokeWidth": 1.3, "strokeDash": [3, 2], "interpolate": "monotone", "clip": true}},
   {"data": {"values": [{"x": 20.0337, "x2": 20.1077, "y": -0.0264}]}, "mark": {"type": "rule", "color": "#ff00ff", "strokeWidth": 1.8}, "encoding": {"x2": {"field": "x2"}}},
   {"data": {"values": [{"x": 20.2838, "x2": 20.3553, "y": -0.0264}]}, "mark": {"type": "rule", "color": "#108a10", "strokeWidth": 1.3, "strokeDash": [3, 2]}, "encoding": {"x2": {"field": "x2"}}},
   {"data": {"values": [{"x": 20.1179, "y": -0.0264, "l": "experiment"}, {"x": 20.3629, "y": -0.0264, "l": "analytical"}, {"x": 20.0055, "y": 0.0274, "l": "f=12Hz"}, {"x": 19.9044, "y": 0.0277, "l": "(c1)"}]}, "mark": {"type": "text", "align": "left", "baseline": "middle", "fontSize": 19}, "encoding": {"text": {"field": "l", "type": "nominal"}}},
   {"data": {"values": [{"x": 20.4533, "y": 0.0239}]}, "mark": {"type": "point", "shape": "circle", "size": 490, "filled": false, "color": "#ff00ff", "strokeWidth": 1.3, "opacity": 1}},
   {"data": {"values": [{"x": 20.4533, "y": 0.0239, "l": "A3"}]}, "mark": {"type": "text", "align": "center", "baseline": "middle", "fontSize": 16}, "encoding": {"text": {"field": "l", "type": "nominal"}}}
  ]},
  {"data": {"values": [{"x": 20.2, "y": 0}]}, "mark": {"type": "point", "opacity": 0},
   "encoding": {
    "x": {"field": "x", "type": "quantitative", "scale": {"domain": [20, 20.5], "nice": false, "zero": false}, "axis": {"orient": "top", "values": [20.1, 20.2, 20.3, 20.4], "labels": false, "title": null, "minExtent": 0}},
    "y": {"field": "y", "type": "quantitative", "scale": {"domain": [-0.03, 0.03], "nice": false, "zero": false}, "axis": {"orient": "right", "values": [-0.02, -0.01, 0, 0.01, 0.02], "labels": false, "title": null, "minExtent": 0}}
   }}
  ]},
 {"hconcat": [
 {"width": 321, "height": 187, "resolve": {"axis": {"x": "independent", "y": "independent"}},
  "layer": [
  {"encoding": {
   "x": {"field": "x", "type": "quantitative", "scale": {"domain": [0, 150], "nice": false, "zero": false}, "axis": {"values": [0, 50, 100, 150], "labelExpr": "'' + datum.value", "labelPadding": 3, "title": "frequency,  [Hz]", "titleY": 19}},
   "y": {"field": "y", "type": "quantitative", "scale": {"domain": [0, 0.025], "nice": false}, "axis": {"values": [0, 0.01, 0.02], "labelExpr": "'' + datum.value", "title": "magnitude", "titleX": -43}}
  },
  "layer": [
   {"data": {"name": "c2e"}, "mark": {"type": "line", "color": "#ff00ff", "strokeWidth": 1.6, "clip": true}},
   {"data": {"name": "c2a"}, "mark": {"type": "line", "color": "#108a10", "strokeWidth": 1.3, "strokeDash": [1.5, 2], "clip": true}},
   {"data": {"values": [{"x": 72.75, "x2": 95.3, "y": 0.01555}]}, "mark": {"type": "rule", "color": "#ff00ff", "strokeWidth": 1.6}, "encoding": {"x2": {"field": "x2"}}},
   {"data": {"values": [{"x": 72.75, "x2": 95.8, "y": 0.01146}]}, "mark": {"type": "rule", "color": "#108a10", "strokeWidth": 1.3, "strokeDash": [1.5, 2]}, "encoding": {"x2": {"field": "x2"}}},
   {"data": {"values": [{"x": 98.5, "y": 0.01555, "l": "experiment"}, {"x": 99, "y": 0.01146, "l": "analytical"}, {"x": 47.1, "y": 0.02135, "l": "f₁=12Hz"}, {"x": -32.0, "y": 0.0239, "l": "(c2)"}]}, "mark": {"type": "text", "align": "left", "baseline": "middle", "fontSize": 19}, "encoding": {"text": {"field": "l", "type": "nominal"}}},
   {"data": {"values": [{"x": 12, "y": 0.0231, "l": "f₁"}, {"x": 24.4, "y": 0.0062, "l": "2f₁"}, {"x": 35.4, "y": 0.0022, "l": "3f₁"}]}, "mark": {"type": "text", "align": "center", "baseline": "middle", "fontSize": 19}, "encoding": {"text": {"field": "l", "type": "nominal"}}},
   {"data": {"values": [{"x": 139.7, "y": 0.02246}]}, "mark": {"type": "point", "shape": "circle", "size": 490, "filled": false, "color": "#ff00ff", "strokeWidth": 1.3, "opacity": 1}},
   {"data": {"values": [{"x": 139.7, "y": 0.02246, "l": "A3"}]}, "mark": {"type": "text", "align": "center", "baseline": "middle", "fontSize": 16}, "encoding": {"text": {"field": "l", "type": "nominal"}}}
  ]},
  {"data": {"values": [{"x": 50, "y": 0.01}]}, "mark": {"type": "point", "opacity": 0},
   "encoding": {
    "x": {"field": "x", "type": "quantitative", "scale": {"domain": [0, 150], "nice": false, "zero": false}, "axis": {"orient": "top", "values": [50, 100], "labels": false, "title": null, "minExtent": 0}},
    "y": {"field": "y", "type": "quantitative", "scale": {"domain": [0, 0.025], "nice": false}, "axis": {"orient": "right", "values": [0.01, 0.02], "labels": false, "title": null, "minExtent": 0}}
   }}
  ]},
 {"width": 313, "height": 187, "resolve": {"axis": {"x": "independent", "y": "independent"}},
  "layer": [
  {"encoding": {
   "x": {"field": "x", "type": "quantitative", "scale": {"domain": [100, 100.5], "nice": false, "zero": false}, "axis": {"values": [100, 100.1, 100.2, 100.3, 100.4], "labelExpr": "'' + datum.value", "labelPadding": 3, "title": "time, t [s]", "titleY": 19}},
   "y": {"field": "y", "type": "quantitative", "scale": {"domain": [0.014, 0.025], "nice": false, "zero": false}, "axis": {"values": [0.015, 0.02, 0.025], "labelExpr": "'' + datum.value", "title": "DC voltage, vᵣ  [V]", "titleFontSize": 22, "titleX": -56}}
  },
  "layer": [
   {"data": {"name": "c3e"}, "mark": {"type": "line", "color": "#ff00ff", "strokeWidth": 1.6, "clip": true}},
   {"data": {"name": "c3a"}, "mark": {"type": "line", "color": "#108a10", "strokeWidth": 1.3, "strokeDash": [3, 2], "clip": true}},
   {"data": {"values": [{"x": 100.0174, "x2": 100.0733, "y": 0.02394}]}, "mark": {"type": "rule", "color": "#ff00ff", "strokeWidth": 1.6}, "encoding": {"x2": {"field": "x2"}}},
   {"data": {"values": [{"x": 100.0174, "x2": 100.0733, "y": 0.02231}]}, "mark": {"type": "rule", "color": "#108a10", "strokeWidth": 1.3, "strokeDash": [3, 2]}, "encoding": {"x2": {"field": "x2"}}},
   {"data": {"values": [{"x": 100.0813, "y": 0.02394, "l": "experiment"}, {"x": 100.2331, "y": 0.02394, "l": "mean(vᵣ)=0.0194V"}, {"x": 100.084, "y": 0.02231, "l": "analytical"}, {"x": 100.2118, "y": 0.02231, "l": "vᵣ=0.0161V"}]}, "mark": {"type": "text", "align": "left", "baseline": "middle", "fontSize": 18}, "encoding": {"text": {"field": "l", "type": "nominal"}}},
   {"data": {"values": [{"x": 99.865, "y": 0.02494, "l": "(c3)"}]}, "mark": {"type": "text", "align": "left", "baseline": "middle", "fontSize": 16}, "encoding": {"text": {"field": "l", "type": "nominal"}}},
   {"data": {"values": [{"x": 100.035, "y": 0.01457}]}, "mark": {"type": "point", "shape": "circle", "size": 490, "filled": false, "color": "#ff00ff", "strokeWidth": 1.3, "opacity": 1}},
   {"data": {"values": [{"x": 100.035, "y": 0.01457, "l": "A3"}]}, "mark": {"type": "text", "align": "center", "baseline": "middle", "fontSize": 16}, "encoding": {"text": {"field": "l", "type": "nominal"}}}
  ]},
  {"data": {"values": [{"x": 100.2, "y": 0.02}]}, "mark": {"type": "point", "opacity": 0},
   "encoding": {
    "x": {"field": "x", "type": "quantitative", "scale": {"domain": [100, 100.5], "nice": false, "zero": false}, "axis": {"orient": "top", "values": [100.1, 100.2, 100.3, 100.4], "labels": false, "title": null, "minExtent": 0}},
    "y": {"field": "y", "type": "quantitative", "scale": {"domain": [0.014, 0.025], "nice": false, "zero": false}, "axis": {"orient": "right", "values": [0.015, 0.02], "labels": false, "title": null, "minExtent": 0}}
   }}
  ]}
 ], "spacing": 100, "bounds": "flush", "resolve": {"scale": {"x": "independent", "y": "independent"}}}
], "spacing": 84, "bounds": "flush", "resolve": {"scale": {"x": "independent", "y": "independent"}}}
], "spacing": -1.5, "resolve": {"scale": {"x": "independent", "y": "independent"}}}
]
}
